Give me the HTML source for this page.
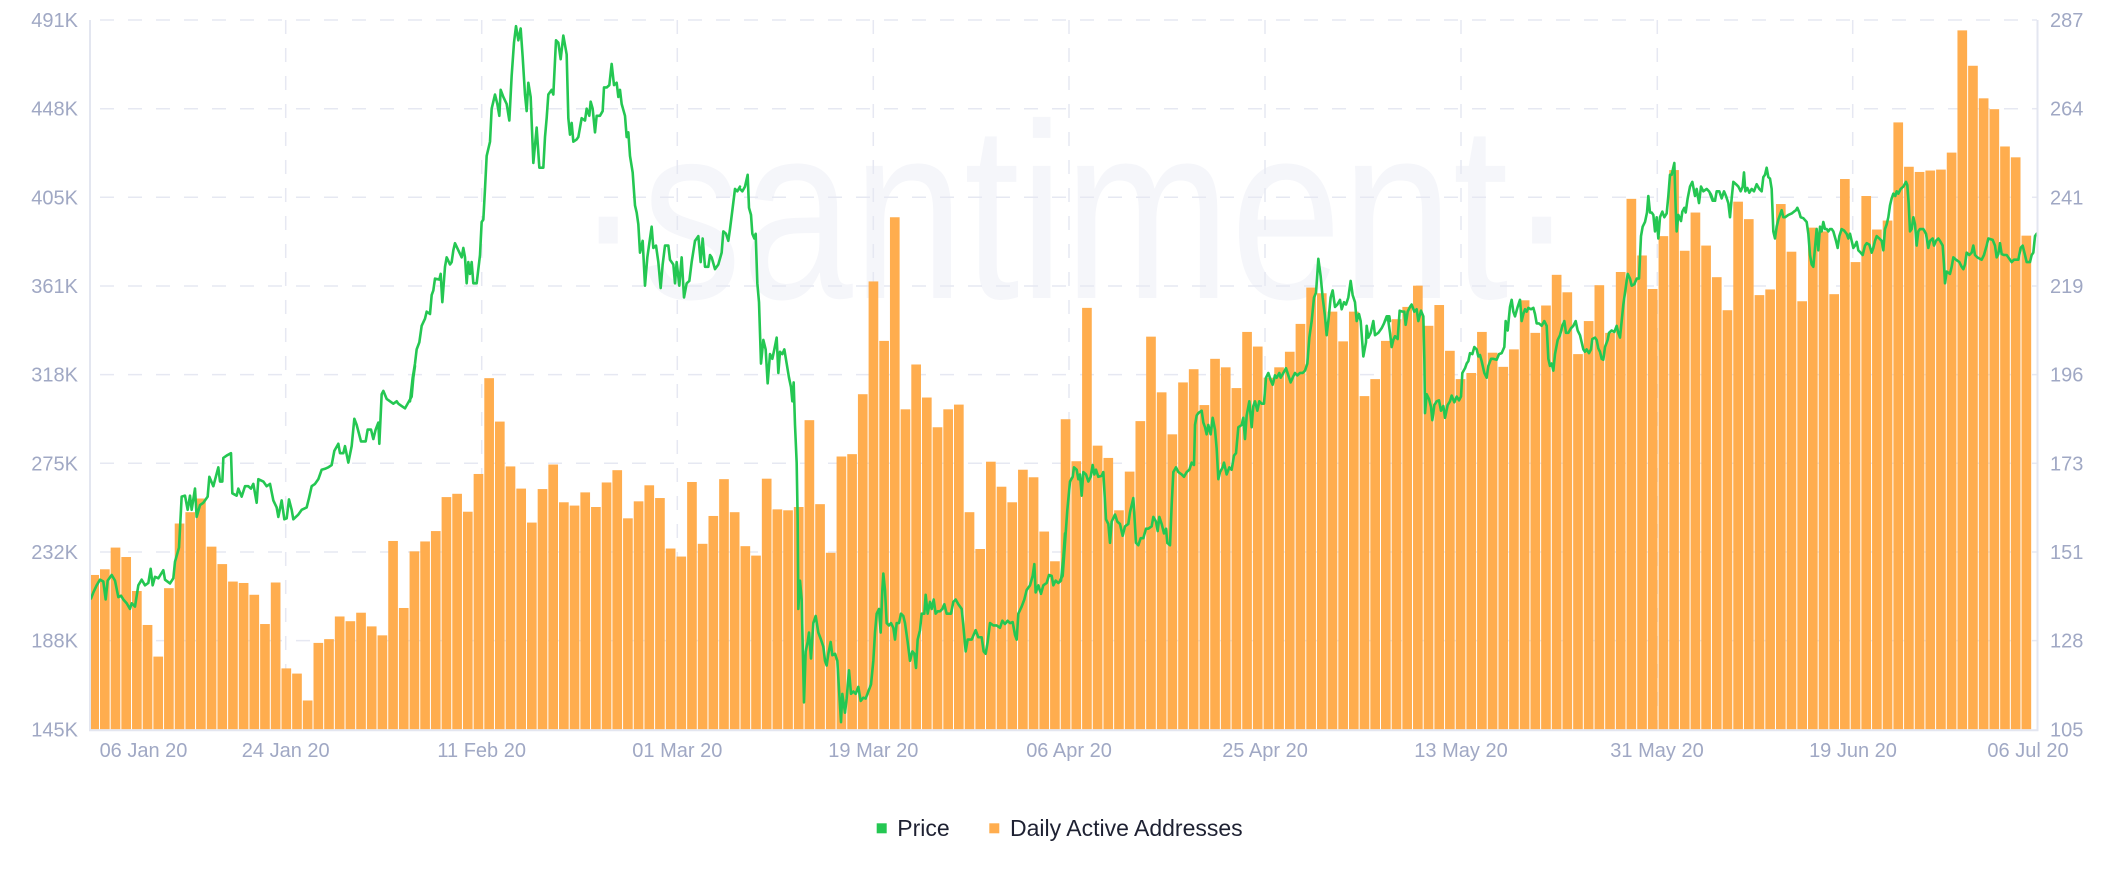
<!DOCTYPE html>
<html><head><meta charset="utf-8"><style>
html,body{margin:0;padding:0;background:#fff;width:2128px;height:876px;overflow:hidden;}
svg{display:block;font-family:"Liberation Sans",Arial,sans-serif;}
</style></head><body>
<svg width="2128" height="876" viewBox="0 0 2128 876" xmlns="http://www.w3.org/2000/svg">
<rect width="2128" height="876" fill="#fff"/>
<text x="575" y="298" font-size="250" fill="#F5F6FA" textLength="1000" lengthAdjust="spacingAndGlyphs">·santiment·</text>
<g stroke="#E6E8F2" stroke-width="1.5" fill="none" stroke-dasharray="14 14" stroke-dashoffset="18">
<line x1="90" y1="20" x2="2037" y2="20"/><line x1="90" y1="108.7" x2="2037" y2="108.7"/><line x1="90" y1="197.3" x2="2037" y2="197.3"/><line x1="90" y1="286" x2="2037" y2="286"/><line x1="90" y1="374.6" x2="2037" y2="374.6"/><line x1="90" y1="463.3" x2="2037" y2="463.3"/><line x1="90" y1="552" x2="2037" y2="552"/><line x1="90" y1="640.6" x2="2037" y2="640.6"/>
</g>
<g stroke="#E6E8F2" stroke-width="1.5" fill="none" stroke-dasharray="14 14">
<line x1="285.7" y1="20" x2="285.7" y2="729"/><line x1="481.7" y1="20" x2="481.7" y2="729"/><line x1="677.3" y1="20" x2="677.3" y2="729"/><line x1="873.3" y1="20" x2="873.3" y2="729"/><line x1="1069" y1="20" x2="1069" y2="729"/><line x1="1265" y1="20" x2="1265" y2="729"/><line x1="1461" y1="20" x2="1461" y2="729"/><line x1="1657.3" y1="20" x2="1657.3" y2="729"/><line x1="1852.7" y1="20" x2="1852.7" y2="729"/>
</g>
<g transform="translate(78.65,0.18) scale(10.675,0.4719)" fill="#FFAD4E">
<rect x="1.157" y="1218" width=".749" height="327"/>
<rect x="2" y="1206" width=".906" height="339"/><rect x="3" y="1160" width=".906" height="385"/><rect x="4" y="1180" width=".906" height="365"/><rect x="5" y="1252" width=".906" height="293"/><rect x="6" y="1324" width=".906" height="221"/><rect x="7" y="1391" width=".906" height="154"/><rect x="8" y="1246" width=".906" height="299"/><rect x="9" y="1109" width=".906" height="436"/><rect x="10" y="1085" width=".906" height="460"/>
<rect x="11" y="1056" width=".906" height="489"/><rect x="12" y="1158" width=".906" height="387"/><rect x="13" y="1195" width=".906" height="350"/><rect x="14" y="1232" width=".906" height="313"/><rect x="15" y="1235" width=".906" height="310"/><rect x="16" y="1260" width=".906" height="285"/><rect x="17" y="1322" width=".906" height="223"/><rect x="18" y="1234" width=".906" height="311"/><rect x="19" y="1416" width=".906" height="129"/><rect x="20" y="1427" width=".906" height="118"/>
<rect x="21" y="1484" width=".906" height="61"/><rect x="22" y="1362" width=".906" height="183"/><rect x="23" y="1354" width=".906" height="191"/><rect x="24" y="1306" width=".906" height="239"/><rect x="25" y="1316" width=".906" height="229"/><rect x="26" y="1298" width=".906" height="247"/><rect x="27" y="1327" width=".906" height="218"/><rect x="28" y="1346" width=".906" height="199"/><rect x="29" y="1146" width=".906" height="399"/><rect x="30" y="1288" width=".906" height="257"/>
<rect x="31" y="1168" width=".906" height="377"/><rect x="32" y="1147" width=".906" height="398"/><rect x="33" y="1125" width=".906" height="420"/><rect x="34" y="1053" width=".906" height="492"/><rect x="35" y="1046" width=".906" height="499"/><rect x="36" y="1084" width=".906" height="461"/><rect x="37" y="1004" width=".906" height="541"/><rect x="38" y="801" width=".906" height="744"/><rect x="39" y="893" width=".906" height="652"/><rect x="40" y="988" width=".906" height="557"/>
<rect x="41" y="1035" width=".906" height="510"/><rect x="42" y="1107" width=".906" height="438"/><rect x="43" y="1036" width=".906" height="509"/><rect x="44" y="984" width=".906" height="561"/><rect x="45" y="1064" width=".906" height="481"/><rect x="46" y="1071" width=".906" height="474"/><rect x="47" y="1043" width=".906" height="502"/><rect x="48" y="1074" width=".906" height="471"/><rect x="49" y="1022" width=".906" height="523"/><rect x="50" y="996" width=".906" height="549"/>
<rect x="51" y="1098" width=".906" height="447"/><rect x="52" y="1062" width=".906" height="483"/><rect x="53" y="1028" width=".906" height="517"/><rect x="54" y="1055" width=".906" height="490"/><rect x="55" y="1162" width=".906" height="383"/><rect x="56" y="1179" width=".906" height="366"/><rect x="57" y="1021" width=".906" height="524"/><rect x="58" y="1152" width=".906" height="393"/><rect x="59" y="1093" width=".906" height="452"/><rect x="60" y="1015" width=".906" height="530"/>
<rect x="61" y="1085" width=".906" height="460"/><rect x="62" y="1157" width=".906" height="388"/><rect x="63" y="1177" width=".906" height="368"/><rect x="64" y="1014" width=".906" height="531"/><rect x="65" y="1079" width=".906" height="466"/><rect x="66" y="1081" width=".906" height="464"/><rect x="67" y="1074" width=".906" height="471"/><rect x="68" y="890" width=".906" height="655"/><rect x="69" y="1068" width=".906" height="477"/><rect x="70" y="1171" width=".906" height="374"/>
<rect x="71" y="967" width=".906" height="578"/><rect x="72" y="962" width=".906" height="583"/><rect x="73" y="835" width=".906" height="710"/><rect x="74" y="596" width=".906" height="949"/><rect x="75" y="722" width=".906" height="823"/><rect x="76" y="460" width=".906" height="1085"/><rect x="77" y="867" width=".906" height="678"/><rect x="78" y="772" width=".906" height="773"/><rect x="79" y="842" width=".906" height="703"/><rect x="80" y="905" width=".906" height="640"/>
<rect x="81" y="867" width=".906" height="678"/><rect x="82" y="857" width=".906" height="688"/><rect x="83" y="1085" width=".906" height="460"/><rect x="84" y="1163" width=".906" height="382"/><rect x="85" y="978" width=".906" height="567"/><rect x="86" y="1031" width=".906" height="514"/><rect x="87" y="1064" width=".906" height="481"/><rect x="88" y="995" width=".906" height="550"/><rect x="89" y="1011" width=".906" height="534"/><rect x="90" y="1126" width=".906" height="419"/>
<rect x="91" y="1189" width=".906" height="356"/><rect x="92" y="888" width=".906" height="657"/><rect x="93" y="977" width=".906" height="568"/><rect x="94" y="652" width=".906" height="893"/><rect x="95" y="944" width=".906" height="601"/><rect x="96" y="970" width=".906" height="575"/><rect x="97" y="1081" width=".906" height="464"/><rect x="98" y="999" width=".906" height="546"/><rect x="99" y="892" width=".906" height="653"/><rect x="100" y="713" width=".906" height="832"/>
<rect x="101" y="831" width=".906" height="714"/><rect x="102" y="920" width=".906" height="625"/><rect x="103" y="810" width=".906" height="735"/><rect x="104" y="782" width=".906" height="763"/><rect x="105" y="858" width=".906" height="687"/><rect x="106" y="760" width=".906" height="785"/><rect x="107" y="778" width=".906" height="767"/><rect x="108" y="822" width=".906" height="723"/><rect x="109" y="703" width=".906" height="842"/><rect x="110" y="734" width=".906" height="811"/>
<rect x="111" y="800" width=".906" height="745"/><rect x="112" y="778" width=".906" height="767"/><rect x="113" y="745" width=".906" height="800"/><rect x="114" y="686" width=".906" height="859"/><rect x="115" y="609" width=".906" height="936"/><rect x="116" y="621" width=".906" height="924"/><rect x="117" y="660" width=".906" height="885"/><rect x="118" y="723" width=".906" height="822"/><rect x="119" y="660" width=".906" height="885"/><rect x="120" y="839" width=".906" height="706"/>
<rect x="121" y="803" width=".906" height="742"/><rect x="122" y="722" width=".906" height="823"/><rect x="123" y="676" width=".906" height="869"/><rect x="124" y="650" width=".906" height="895"/><rect x="125" y="605" width=".906" height="940"/><rect x="126" y="690" width=".906" height="855"/><rect x="127" y="646" width=".906" height="899"/><rect x="128" y="743" width=".906" height="802"/><rect x="129" y="803" width=".906" height="742"/><rect x="130" y="790" width=".906" height="755"/>
<rect x="131" y="703" width=".906" height="842"/><rect x="132" y="747" width=".906" height="798"/><rect x="133" y="777" width=".906" height="768"/><rect x="134" y="740" width=".906" height="805"/><rect x="135" y="636" width=".906" height="909"/><rect x="136" y="705" width=".906" height="840"/><rect x="137" y="647" width=".906" height="898"/><rect x="138" y="582" width=".906" height="963"/><rect x="139" y="619" width=".906" height="926"/><rect x="140" y="750" width=".906" height="795"/>
<rect x="141" y="680" width=".906" height="865"/><rect x="142" y="604" width=".906" height="941"/><rect x="143" y="705" width=".906" height="840"/><rect x="144" y="576" width=".906" height="969"/><rect x="145" y="421" width=".906" height="1124"/><rect x="146" y="541" width=".906" height="1004"/><rect x="147" y="612" width=".906" height="933"/><rect x="148" y="500" width=".906" height="1045"/><rect x="149" y="360" width=".906" height="1185"/><rect x="150" y="531" width=".906" height="1014"/>
<rect x="151" y="450" width=".906" height="1095"/><rect x="152" y="520" width=".906" height="1025"/><rect x="153" y="587" width=".906" height="958"/><rect x="154" y="657" width=".906" height="888"/><rect x="155" y="427" width=".906" height="1118"/><rect x="156" y="464" width=".906" height="1081"/><rect x="157" y="625" width=".906" height="920"/><rect x="158" y="613" width=".906" height="932"/><rect x="159" y="432" width=".906" height="1113"/><rect x="160" y="533" width=".906" height="1012"/>
<rect x="161" y="638" width=".906" height="907"/><rect x="162" y="482" width=".906" height="1063"/><rect x="163" y="490" width=".906" height="1055"/><rect x="164" y="623" width=".906" height="922"/><rect x="165" y="379" width=".906" height="1166"/><rect x="166" y="555" width=".906" height="990"/><rect x="167" y="415" width=".906" height="1130"/><rect x="168" y="486" width=".906" height="1059"/><rect x="169" y="467" width=".906" height="1078"/><rect x="170" y="259" width=".906" height="1286"/>
<rect x="171" y="353" width=".906" height="1192"/><rect x="172" y="364" width=".906" height="1181"/><rect x="173" y="361" width=".906" height="1184"/><rect x="174" y="359" width=".906" height="1186"/><rect x="175" y="323" width=".906" height="1222"/><rect x="176" y="64" width=".906" height="1481"/><rect x="177" y="139" width=".906" height="1406"/><rect x="178" y="208" width=".906" height="1337"/><rect x="179" y="231" width=".906" height="1314"/><rect x="180" y="310" width=".906" height="1235"/>
<rect x="181" y="333" width=".906" height="1212"/><rect x="182" y="499" width=".906" height="1046"/>
</g>
<g fill="none" stroke="#24C752" stroke-width="2.6" stroke-linejoin="round" stroke-linecap="round">
<polyline vector-effect="non-scaling-stroke" transform="translate(85,0.18) scale(0.33333,0.4719)" points="18,1268 25,1255 35,1240 45,1228 55,1232 62,1270 68,1230 80,1218 90,1230 100,1265 108,1262 115,1270 125,1278 135,1290 140,1278 150,1285 160,1240 170,1228 180,1240 190,1235 197,1205 203,1240 210,1222 220,1225 235,1208 240,1228 255,1236 265,1225 270,1190 282,1160 290,1052 300,1050 308,1080 315,1050 320,1080 330,1035 335,1095 345,1070 355,1065 368,1052 373,1010 385,1030 400,990 405,1020 412,1020 415,970 425,965 438,960 442,1045 455,1050 460,1035 470,1052 480,1030 490,1030 498,1035 505,1025 515,1065 520,1015 535,1020 545,1030 555,1025 565,1060 575,1075 580,1095 590,1060 598,1100 605,1098 612,1058 620,1080 625,1100 640,1090 650,1080 665,1075 672,1055 680,1030 690,1025 700,1015 710,995 720,993 730,990 740,985 748,955 760,940 765,960 775,960 780,945 790,980 800,945 808,887 815,900 828,935 842,935 848,910 858,910 865,930 872,910 880,895 883,940 890,835 895,828 905,845 915,850 925,855 935,850 940,855 950,860 960,865 968,855 980,840 985,800 990,775"/>
<polyline vector-effect="non-scaling-stroke" transform="translate(410,0.18) scale(0.33333,0.4719)" points="0,850 8,800 15,770 20,740 28,725 35,690 45,675 50,660 60,665 65,625 70,615 75,590 88,592 92,580 97,640 105,565 110,545 120,560 125,555 130,530 135,515 145,530 155,545 160,525 165,545 170,600 175,555 180,580 185,555 190,600 200,600 210,540 215,470 220,465 225,400 230,330 240,300 245,230 255,200 262,220 268,245 272,190 280,205 290,220 298,255 305,160 312,90 318,55 325,85 332,60 338,120 345,200 350,235 355,175 362,205 370,345 380,270 388,355 400,355 405,290 410,250 415,200 425,190 430,200 438,85 445,90 452,125 460,75 470,115 475,250 480,285 485,260 490,300 500,295 505,290 515,250 525,255 530,230 538,245 542,215 548,230 555,280 560,245 570,245 578,235 582,185 590,185 598,180 605,135 612,180 620,175 625,205 630,190 635,220 645,245 650,290 655,280 660,330 668,365 675,435 680,450 685,475 690,535 698,510 705,605 712,545 720,505 725,480 730,525 738,520 745,555 752,610 758,560 765,520 775,520 780,550 790,560 795,600 800,555 808,605 815,545 822,630 830,600 838,595 845,555 855,510 865,500 872,555 878,505 885,565 895,565 900,540 905,545 915,570 925,560 935,535 940,490 948,495 955,510 960,485 968,440 975,400 982,405 990,395"/>
<polyline vector-effect="non-scaling-stroke" transform="translate(735,0.18) scale(0.33333,0.4719)" points="15,400 22,405 30,395 38,370 42,440 48,455 52,495 58,505 62,495 67,600 72,640 78,770 85,720 92,740 98,812 105,750 112,760 118,740 125,715 130,790 135,745 142,750 148,740 155,770 162,800 168,820 172,850 176,810 180,900 185,980 188,1100 190,1290 195,1230 200,1270 207,1488 212,1380 218,1360 222,1340 228,1395 235,1320 242,1305 250,1340 258,1355 265,1370 270,1400 275,1410 280,1385 287,1360 292,1388 300,1385 307,1400 312,1460 318,1530 322,1470 330,1510 335,1480 342,1420 348,1470 355,1465 362,1470 370,1455 377,1485 385,1478 392,1480 400,1465 408,1450 415,1400 420,1340 425,1300 432,1290 437,1340 442,1250 445,1215 450,1250 455,1320 462,1325 468,1320 475,1330 480,1355 485,1320 492,1320 498,1300 505,1305 510,1320 518,1360 525,1400 532,1380 538,1385 543,1415 548,1355 555,1335 560,1300 568,1300 572,1260 578,1300 585,1275 590,1290 596,1270 602,1300 608,1295 615,1295 622,1290 628,1280 635,1300 648,1300 655,1275 662,1270 670,1280 680,1290 685,1325 692,1380 698,1355 710,1355 716,1345 722,1335 730,1350 740,1350 746,1380 752,1385 758,1360 765,1320 775,1325 785,1325 795,1330 802,1315 810,1322 818,1315 825,1320 833,1318 840,1345 845,1355 850,1300 860,1285 868,1270 875,1250 885,1240 893,1220 898,1195 902,1255 910,1240 918,1258 925,1240 935,1235 942,1218 950,1220 955,1240 962,1230 970,1235 978,1230 985,1180 990,1130"/>
<polyline vector-effect="non-scaling-stroke" transform="translate(1060,0.18) scale(0.33333,0.4719)" points="0,1230 8,1220 15,1150 22,1080 30,1020 38,1010 42,990 50,995 55,1015 60,1005 65,1050 70,1000 78,1005 85,1020 92,1010 98,985 103,1005 108,995 115,1010 125,1008 130,1000 138,1100 145,1110 150,1150 155,1105 165,1090 172,1105 180,1110 188,1135 195,1115 205,1110 210,1085 220,1055 228,1150 235,1155 242,1140 250,1140 258,1120 265,1120 275,1115 280,1095 288,1105 293,1125 298,1095 305,1110 312,1130 318,1120 322,1150 330,1155 335,1070 340,1000 348,990 355,1000 365,1005 372,1010 380,1000 388,995 395,980 402,985 405,900 410,880 415,875 425,870 430,895 435,905 440,920 445,900 452,920 458,885 465,910 470,950 475,1015 480,1000 488,990 492,980 500,1005 508,990 515,995 522,965 528,960 535,905 545,900 550,885 555,930 560,880 568,850 575,905 580,860 585,850 592,870 598,850 605,855 612,855 618,800 625,790 632,805 638,815 645,795 650,800 658,790 662,800 670,790 678,780 685,795 692,810 698,800 705,790 712,795 720,790 728,790 735,785 742,770 748,715 755,680 762,630 768,620 772,580 775,548 782,585 788,630 795,670 800,710 805,680 812,630 818,615 825,650 832,645 840,635 845,655 852,640 858,645 865,630 872,595 878,625 885,640 890,680 897,665 902,680 910,755 918,725 920,690 925,715 932,705 940,680 945,710 955,705 965,695 972,685 980,670 988,670 990,680"/>
<polyline vector-effect="non-scaling-stroke" transform="translate(1385,0.18) scale(0.33333,0.4719)" points="0,680 8,670 15,705 20,735 25,720 30,712 38,718 44,658 52,660 58,660 62,688 68,660 75,650 80,645 88,660 95,655 100,680 108,658 115,670 118,760 120,875 125,835 132,845 138,862 142,890 148,858 155,850 162,848 168,870 175,860 180,885 188,858 195,850 200,838 208,852 215,840 222,848 228,840 232,790 240,780 245,770 250,765 255,748 262,750 268,735 275,740 280,755 285,752 290,765 298,790 305,800 310,775 318,760 325,760 335,762 342,750 350,748 358,735 362,680 368,700 375,650 380,635 385,660 390,670 398,650 405,635 410,680 415,665 420,655 425,660 430,652 438,655 445,652 450,665 455,685 462,685 470,690 478,680 485,690 490,760 495,775 500,770 505,785 510,750 518,720 525,710 532,690 538,680 543,705 550,705 558,695 565,690 572,680 578,700 585,710 595,740 600,745 605,740 612,748 618,740 622,718 630,715 635,720 640,738 645,745 650,760 655,762 660,735 668,720 672,705 680,700 688,703 695,690 700,705 705,715 710,680 715,645 722,610 728,580 735,590 740,605 748,602 755,590 762,590 768,500 773,480 780,470 786,450 790,415 795,450 800,450 805,455 810,490 815,460 820,505 825,460 832,448 838,460 845,452 850,415 855,370 860,370 868,345 872,440 875,490 880,455 888,468 892,448 898,440 902,450 908,420 915,395 922,385 930,415 935,400 942,430 948,395 955,405 965,400 972,405 978,412 985,425 990,425"/>
<polyline vector-effect="non-scaling-stroke" transform="translate(1710,0.18) scale(0.33333,0.4719)" points="0,410 8,425 15,425 20,405 28,405 35,420 42,405 48,415 55,430 60,460 65,420 70,385 78,390 85,395 92,405 98,395 102,365 106,405 112,398 118,408 125,400 132,405 140,390 148,400 155,405 160,375 165,370 170,355 175,375 180,378 185,400 190,490 195,505 200,480 205,465 210,455 215,445 220,460 225,460 235,455 245,452 252,448 258,445 262,440 268,450 272,460 280,462 290,470 295,495 300,540 305,560 310,565 315,525 320,485 325,530 330,480 335,490 340,470 345,485 350,485 355,490 360,485 365,485 370,490 378,510 383,525 388,500 395,485 402,488 410,495 415,505 420,495 425,510 430,525 435,520 440,512 445,530 452,535 458,540 465,520 470,515 478,518 485,535 490,525 495,510 500,500 508,505 515,510 520,530 525,485 530,475 535,460 540,435 545,420 550,410 556,415 560,405 565,410 572,400 580,395 588,385 592,392 596,430 600,490 605,485 610,460 615,475 620,520 625,490 630,485 640,485 648,495 655,525 660,510 668,505 672,520 678,510 685,505 690,510 698,520 702,560 705,600 710,575 720,580 725,565 730,545 738,550 748,555 755,565 760,570 765,560 770,535 778,540 785,535 790,520 795,540 802,545 815,550 822,540 830,520 835,505 848,508 855,520 860,545 865,538 870,515 875,538 882,540 890,540 900,550 905,555 912,550 925,550 932,525 938,520 945,540 950,555 960,555 965,540 970,535 975,500 980,495"/>
</g>
<g stroke="#E3E6F0" stroke-width="2" fill="none">
<line x1="90" y1="20" x2="90" y2="730"/>
<line x1="2037.5" y1="20" x2="2037.5" y2="730"/>
<line x1="89" y1="730.3" x2="2038.5" y2="730.3"/>
</g>
<g font-size="20" fill="#A0A8C4" text-anchor="end">
<text x="78" y="27">491K</text><text x="78" y="115.7">448K</text><text x="78" y="204.3">405K</text><text x="78" y="293">361K</text><text x="78" y="381.6">318K</text><text x="78" y="470.3">275K</text><text x="78" y="559">232K</text><text x="78" y="647.6">188K</text><text x="78" y="736.3">145K</text>
</g>
<g font-size="20" fill="#A0A8C4" text-anchor="start">
<text x="2050" y="27">287</text><text x="2050" y="115.7">264</text><text x="2050" y="204.3">241</text><text x="2050" y="293">219</text><text x="2050" y="381.6">196</text><text x="2050" y="470.3">173</text><text x="2050" y="559">151</text><text x="2050" y="647.6">128</text><text x="2050" y="736.3">105</text>
</g>
<g font-size="20" fill="#A0A8C4" text-anchor="middle">
<text x="143.5" y="757">06 Jan 20</text><text x="285.7" y="757">24 Jan 20</text><text x="481.7" y="757">11 Feb 20</text><text x="677.3" y="757">01 Mar 20</text><text x="873.3" y="757">19 Mar 20</text><text x="1069" y="757">06 Apr 20</text><text x="1265" y="757">25 Apr 20</text><text x="1461" y="757">13 May 20</text><text x="1657" y="757">31 May 20</text><text x="1853" y="757">19 Jun 20</text><text x="2028" y="757">06 Jul 20</text>
</g>
<rect x="876.7" y="823.3" width="10" height="10" fill="#24C752"/>
<text x="897.3" y="836" font-size="23" fill="#1E2132">Price</text>
<rect x="989.3" y="823.3" width="10" height="10" fill="#FFAD4E"/>
<text x="1010" y="836" font-size="23" fill="#1E2132">Daily Active Addresses</text>
</svg>
</body></html>
